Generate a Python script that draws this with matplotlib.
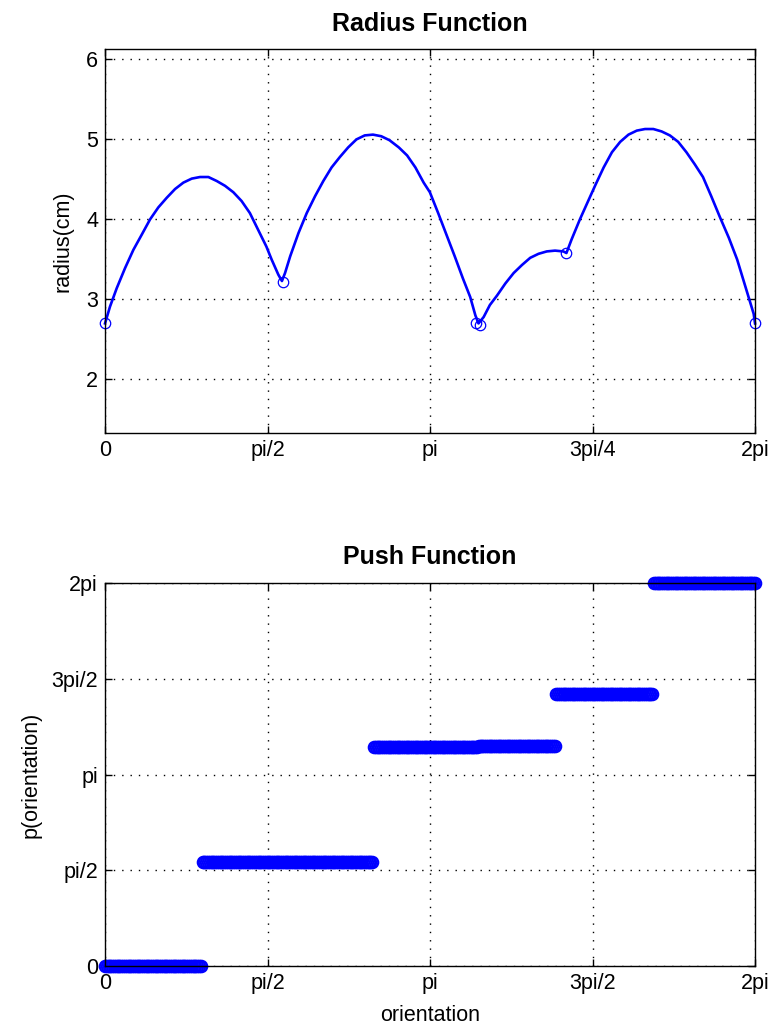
import numpy as np
import matplotlib
matplotlib.use("Agg")
import matplotlib.pyplot as plt

plt.rcParams['font.family'] = ['Liberation Sans', 'DejaVu Sans']

PI = np.pi

# radius function (orientation in rad, radius in cm)
radius_theta = [0.000, 0.048, 0.113, 0.193, 0.274, 0.355, 0.435, 0.515, 0.596, 0.677, 0.757, 0.838,
                0.918, 0.999, 1.08, 1.16, 1.24, 1.32, 1.40, 1.48, 1.56, 1.61, 1.675, 1.71,
                1.74, 1.79, 1.87, 1.95, 2.03, 2.11, 2.19, 2.27, 2.35, 2.43, 2.51, 2.59, 2.67,
                2.75, 2.84, 2.92, 3.00, 3.08, 3.14, 3.22, 3.30, 3.38, 3.46, 3.53, 3.58, 3.61,
                3.66, 3.72, 3.79, 3.87, 3.95, 4.03, 4.11, 4.19, 4.27, 4.35, 4.43, 4.46,
                4.51, 4.59, 4.67, 4.74, 4.82, 4.90, 4.98, 5.06, 5.14, 5.22, 5.30, 5.38, 5.46,
                5.54, 5.62, 5.70, 5.78, 5.86, 5.94, 6.03, 6.11, 6.19, 6.27, 2 * PI]
radius_cm = [2.70, 2.91, 3.14, 3.39, 3.62, 3.81, 4.00, 4.15, 4.27, 4.38, 4.46, 4.51,
             4.53, 4.53, 4.48, 4.42, 4.34, 4.23, 4.08, 3.87, 3.66, 3.50, 3.31, 3.23,
             3.33, 3.54, 3.83, 4.08, 4.29, 4.48, 4.65, 4.78, 4.90, 5.00, 5.05, 5.06, 5.04,
             4.99, 4.90, 4.80, 4.65, 4.46, 4.34, 4.08, 3.81, 3.54, 3.26, 3.03, 2.80, 2.70,
             2.78, 2.93, 3.05, 3.20, 3.33, 3.43, 3.52, 3.57, 3.60, 3.61, 3.60, 3.58,
             3.75, 4.00, 4.23, 4.43, 4.65, 4.84, 4.97, 5.06, 5.11, 5.13, 5.13, 5.10, 5.05,
             4.97, 4.84, 4.69, 4.53, 4.29, 4.04, 3.77, 3.50, 3.16, 2.82, 2.70]

# vertices (circle markers)
vertex_theta = [0.00, 1.72, 3.59, 3.62, 4.46, 2 * PI]
vertex_cm = [2.70, 3.22, 2.70, 2.68, 3.58, 2.70]

# push function: orientation ranges and the level each one goes to
push_breaks = [0.00, 0.93, 2.60, 3.60, 4.36, 5.29, 2 * PI + 0.01]
push_levels = [0.00, 1.71, 3.59, 3.61, 4.47, 2 * PI]
orientation_deg = np.arange(0, 361, 1)

x_ticks = [0, PI / 2, PI, 3 * PI / 2, 2 * PI]
x_labels_top = ['0', 'pi/2', 'pi', '3pi/4', '2pi']
x_labels_bot = ['0', 'pi/2', 'pi', '3pi/2', '2pi']
y_ticks_top = [2, 3, 4, 5, 6]
y_ticks_bot = [0, PI / 2, PI, 3 * PI / 2, 2 * PI]
y_labels_bot = ['0', 'pi/2', 'pi', '3pi/2', '2pi']

orientation = np.deg2rad(orientation_deg)
idx = np.searchsorted(push_breaks, orientation, side='right') - 1
push = np.array(push_levels)[np.clip(idx, 0, len(push_levels) - 1)]

fig = plt.figure(figsize=(7.74, 10.30), dpi=100)
ax1 = fig.add_axes([0.1357, 0.5796, 0.8398, 0.3728])
ax2 = fig.add_axes([0.1357, 0.0621, 0.8398, 0.3718])

blue = '#0000ff'
fs = 15.5
ax1.plot(radius_theta, radius_cm, color=blue, lw=1.9, clip_on=False)
ax1.plot(vertex_theta, vertex_cm, 'o', mfc='none', mec=blue, ms=7.5, mew=0.9, clip_on=False)
ax1.set_xlim(0, 2 * PI)
ax1.set_ylim(1.33, 6.13)
ax1.set_xticks(x_ticks)
ax1.set_xticklabels(x_labels_top)
ax1.set_yticks(y_ticks_top)
ax1.set_ylabel('radius(cm)', fontsize=fs, labelpad=9)
ax1.set_title('Radius Function', fontsize=18, fontweight='bold', pad=13)

ax2.plot(orientation, push, 'o', mfc='none', mec=blue, ms=8.2, mew=1.6, clip_on=False)
ax2.set_xlim(0, 2 * PI)
ax2.set_ylim(0, 2 * PI)
ax2.set_xticks(x_ticks)
ax2.set_xticklabels(x_labels_bot)
ax2.set_yticks(y_ticks_bot)
ax2.set_yticklabels(y_labels_bot)
ax2.set_xlabel('orientation', fontsize=fs, labelpad=8)
ax2.set_ylabel('p(orientation)', fontsize=fs, labelpad=7)
ax2.set_title('Push Function', fontsize=18, fontweight='bold', pad=14)

for ax in (ax1, ax2):
    ax.grid(True, color='black', linestyle=(0, (1, 5)), linewidth=1.0)
    ax.tick_params(direction='in', length=5, width=1, top=True, right=True,
                   labelsize=fs, pad=5, colors='black')
    for s in ax.spines.values():
        s.set_linewidth(1.0)
        s.set_zorder(3)

fig.savefig('out.png', dpi=100)
